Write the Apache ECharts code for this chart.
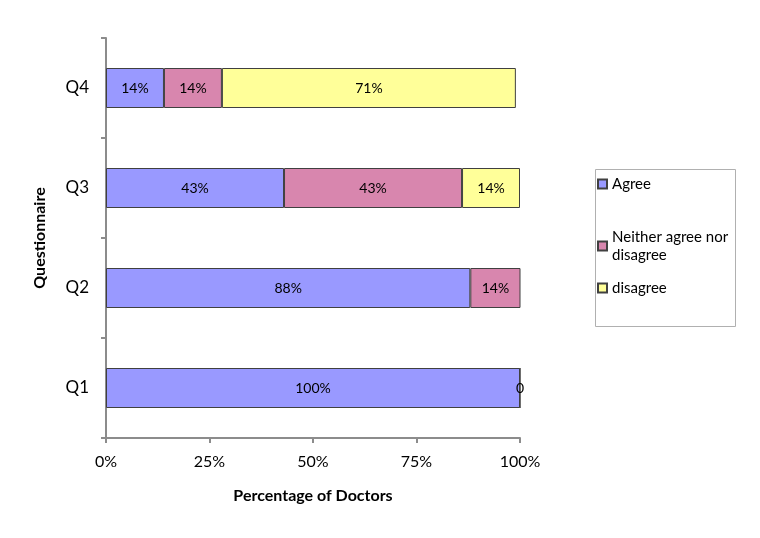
<!DOCTYPE html>
<html>
<head>
<meta charset="utf-8">
<script src="https://cdn.jsdelivr.net/npm/echarts@6/dist/echarts.min.js"></script>
<style>html,body{margin:0;padding:0;background:#fff}#c{width:760px;height:538px}</style>
</head>
<body>
<div id="c"></div>
<script>
const categories = ['Q1', 'Q2', 'Q3', 'Q4'];
const agree = [100, 88, 43, 14];
const neither = [0, 14, 43, 14];
const disagree = [null, null, 14, 71];
const xTicks = [0, 25, 50, 75, 100];
const seriesNames = ['Agree', 'Neither agree nor disagree', 'disagree'];

const FONT = 'Lato, "Open Sans", sans-serif';
const colors = ['#9999FF', '#D886AE', '#FFFF99'];

function lbl(p) { return p.value === 0 ? '0' : p.value + '%'; }

function mkSeries(name, data, color) {
  return {
    name: name, type: 'bar', stack: 'total', data: data, barWidth: '40%', clip: true,
    itemStyle: { color: color, borderColor: '#404040', borderWidth: 1 },
    label: { show: true, position: 'inside', formatter: lbl, color: '#000', fontSize: 14, fontFamily: FONT },
    emphasis: { disabled: true }
  };
}

const chart = echarts.init(document.getElementById('c'), null, { renderer: 'canvas' });
chart.setOption({
  animation: false,
  backgroundColor: '#fff',
  grid: { left: 106, top: 38, width: 414, height: 400, containLabel: false },
  xAxis: {
    type: 'value', min: xTicks[0], max: xTicks[xTicks.length - 1], interval: 25,
    name: 'Percentage of Doctors', nameLocation: 'middle', nameGap: 50,
    nameTextStyle: { fontWeight: 'bold', fontSize: 16, color: '#000', fontFamily: FONT },
    axisLine: { show: true, lineStyle: { color: '#8c8c8c', width: 2 } },
    axisTick: { show: true, length: 5, lineStyle: { color: '#8c8c8c', width: 2 } },
    axisLabel: { formatter: '{value}%', fontSize: 16, color: '#000', margin: 16, fontFamily: FONT },
    splitLine: { show: false }
  },
  yAxis: {
    type: 'category', data: categories,
    name: 'Questionnaire', nameLocation: 'middle', nameGap: 58, nameRotate: 90,
    nameTextStyle: { fontWeight: 'bold', fontSize: 16, color: '#000', fontFamily: FONT },
    axisLine: { show: true, lineStyle: { color: '#8c8c8c', width: 2 } },
    axisTick: { show: true, length: 5, lineStyle: { color: '#8c8c8c', width: 2 } },
    axisLabel: { fontSize: 17, color: '#000', margin: 17, fontFamily: FONT }
  },
  legend: [
    { data: [seriesNames[0]], left: 597, top: 175 },
    { data: [seriesNames[1]], left: 597, top: 228, formatter: () => 'Neither agree nor\ndisagree' },
    { data: [seriesNames[2]], left: 597, top: 279 }
  ].map(l => Object.assign({
    orient: 'vertical', icon: 'rect', itemWidth: 9, itemHeight: 9, itemGap: 4,
    padding: 0, selectedMode: false,
    textStyle: { fontSize: 15, color: '#000', fontFamily: FONT, lineHeight: 18, padding: [0, 0, 0, 0] }
  }, l)),
  graphic: [{
    type: 'rect', left: 593, top: 167, shape: { width: 140, height: 157 },
    style: { fill: 'none', stroke: '#b0b0b0', lineWidth: 1 }, silent: true, z: -1
  }],
  series: [
    mkSeries(seriesNames[0], agree, colors[0]),
    mkSeries(seriesNames[1], neither, colors[1]),
    mkSeries(seriesNames[2], disagree, colors[2])
  ]
});
</script>
</body>
</html>
